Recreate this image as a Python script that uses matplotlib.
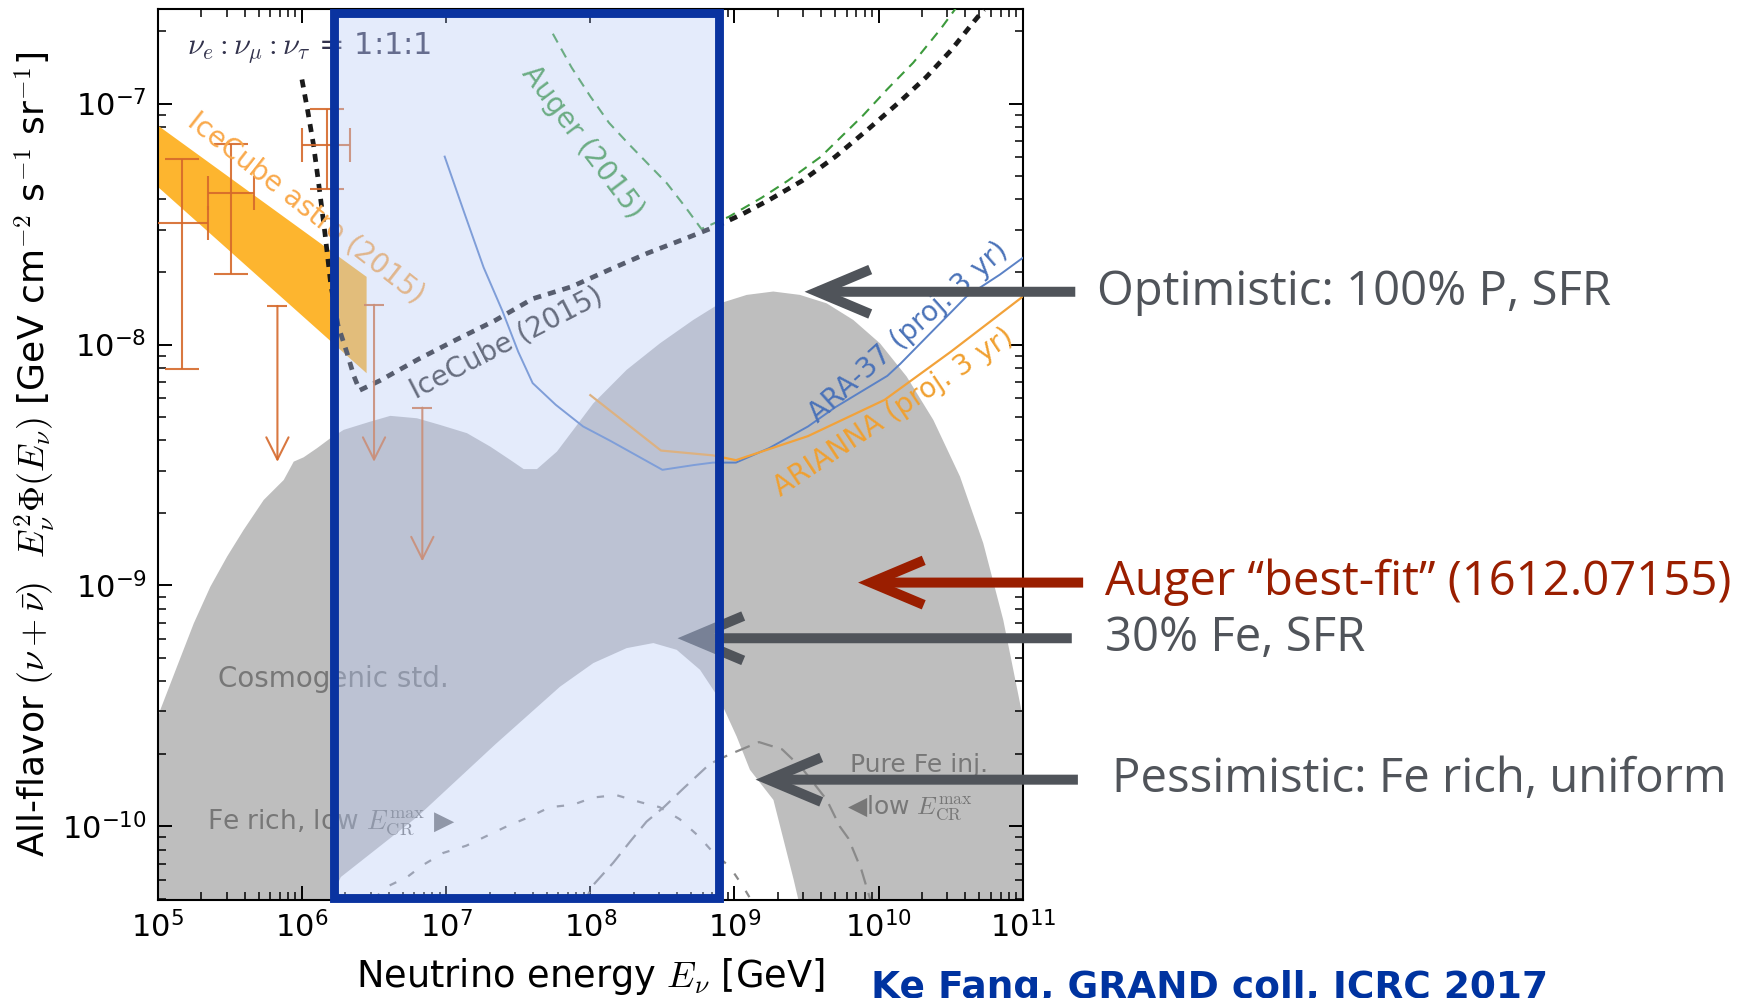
import numpy as np
import matplotlib
matplotlib.use("Agg")
import matplotlib.pyplot as plt
from matplotlib.patches import Rectangle
from matplotlib.ticker import LogLocator, NullFormatter
from matplotlib.transforms import blended_transform_factory

plt.rcParams['font.family'] = ['DejaVu Sans']
plt.rcParams['mathtext.fontset'] = 'cm'

# ---------------- data: log10(E / GeV) and log10(E^2 Phi / GeV cm^-2 s^-1 sr^-1) ----------------
cosmo_up_logE = [5.0, 5.018, 5.134, 5.25, 5.365, 5.481, 5.596, 5.735, 5.874, 5.943, 6.012, 6.105, 6.197, 6.29,
                 6.474, 6.613, 6.798, 6.96, 7.145, 7.307, 7.445, 7.538, 7.63, 7.769, 8.021, 8.252, 8.483, 8.714,
                 8.899, 9.085, 9.269, 9.454, 9.639, 9.824, 10.009, 10.194, 10.379, 10.564, 10.725, 10.864,
                 10.98, 11.0]
cosmo_up_logF = [-9.55, -9.516, -9.336, -9.157, -9.005, -8.880, -8.769, -8.645, -8.562, -8.486, -8.468, -8.430,
                 -8.389, -8.354, -8.320, -8.296, -8.306, -8.334, -8.368, -8.424, -8.479, -8.517, -8.517, -8.444,
                 -8.244, -8.105, -7.995, -7.898, -7.829, -7.794, -7.780, -7.794, -7.829, -7.898, -7.995, -8.133,
                 -8.313, -8.548, -8.824, -9.143, -9.488, -9.55]
cosmo_lo_logE = [5.0, 6.0, 6.19, 6.27, 6.80, 7.34, 7.79, 8.021, 8.252, 8.437, 8.599, 8.761, 8.899, 9.015, 9.107,
                 9.27, 9.41, 9.50, 11.0]
cosmo_lo_logF = [-11.0, -10.55, -10.31, -10.21, -9.96, -9.66, -9.42, -9.322, -9.26, -9.239, -9.267, -9.35, -9.475,
                 -9.627, -9.765, -9.89, -10.22, -10.45, -11.0]

astro_logE = [5.0, 6.445]
astro_hi_logF = [-7.09, -7.717]
astro_lo_logF = [-7.345, -8.117]

hese_logE = [5.171, 5.505, 6.177]
hese_logE_lo = [4.99, 5.346, 6.0]
hese_logE_hi = [5.351, 5.669, 6.336]
hese_logF = [-7.494, -7.372, -7.172]
hese_logF_lo = [-8.103, -7.706, -7.356]
hese_logF_hi = [-7.232, -7.166, -7.021]

ul_logE = [5.83, 6.50, 6.835]
ul_logF = [-7.84, -7.835, -8.262]
ul_tip_logF = [-8.487, -8.487, -8.90]

ic_logE = [6.0, 6.04, 6.08, 6.12, 6.16, 6.20, 6.25, 6.31, 6.36, 6.40, 6.54, 6.81, 7.07, 7.34, 7.60, 7.87, 8.13,
           8.40, 8.66, 8.87, 9.05, 9.24, 9.47, 9.70, 9.92, 10.15, 10.33, 10.50, 10.66, 10.73]
ic_logF = [-6.90, -7.03, -7.17, -7.35, -7.54, -7.75, -7.92, -8.03, -8.13, -8.19, -8.15, -8.06, -7.98, -7.90, -7.81,
           -7.76, -7.69, -7.62, -7.56, -7.51, -7.46, -7.40, -7.32, -7.22, -7.11, -6.99, -6.89, -6.78, -6.66, -6.61]

au_logE = [7.74, 7.87, 8.00, 8.13, 8.27, 8.40, 8.53, 8.66, 8.77, 8.96, 9.19, 9.37, 9.60, 9.89, 10.06, 10.24,
           10.43, 10.54]
au_logF = [-6.71, -6.85, -6.97, -7.08, -7.17, -7.25, -7.33, -7.43, -7.52, -7.47, -7.39, -7.32, -7.22, -7.05,
           -6.94, -6.83, -6.69, -6.60]

ara_logE = [6.99, 7.13, 7.26, 7.39, 7.50, 7.60, 7.76, 7.95, 8.14, 8.32, 8.50, 8.72, 8.85, 9.01, 9.24, 9.51,
            9.70, 10.06, 10.15, 10.38, 10.61, 10.84, 11.0]
ara_logF = [-7.22, -7.46, -7.68, -7.86, -8.03, -8.16, -8.25, -8.34, -8.40, -8.46, -8.52, -8.50, -8.49, -8.49,
            -8.43, -8.34, -8.26, -8.13, -8.08, -7.94, -7.80, -7.71, -7.64]

ari_logE = [8.00, 8.49, 8.85, 9.01, 9.51, 10.04, 10.50, 10.98, 11.0]
ari_logF = [-8.21, -8.44, -8.46, -8.48, -8.38, -8.23, -8.03, -7.81, -7.80]

fe1_logE = [6.50, 6.59, 6.73, 6.84, 6.98, 7.14, 7.28, 7.42, 7.58, 7.72, 7.88, 8.02, 8.18, 8.35, 8.48, 8.62,
            8.75, 8.84, 8.97, 9.06, 9.12]
fe1_logF = [-10.30, -10.25, -10.21, -10.16, -10.11, -10.08, -10.04, -10.00, -9.96, -9.92, -9.91, -9.88, -9.87,
            -9.90, -9.92, -9.97, -10.04, -10.10, -10.17, -10.25, -10.31]

fe2_logE = [7.95, 8.01, 8.16, 8.28, 8.39, 8.51, 8.65, 8.83, 8.97, 9.09, 9.17, 9.33, 9.47, 9.64, 9.73, 9.79,
            9.88, 9.92, 9.95]
fe2_logF = [-10.33, -10.25, -10.15, -10.06, -9.98, -9.92, -9.84, -9.74, -9.70, -9.67, -9.65, -9.68, -9.76,
            -9.89, -10.00, -10.05, -10.18, -10.26, -10.32]

# right-hand annotations: arrow tip (log10 E, log10 F), label text
note_tip_logE = [9.486, 9.857, 8.605, 9.146]
note_tip_logF = [-7.781, -8.988, -9.219, -9.806]
note_text = ["Optimistic: 100% P, SFR", "Auger \u201cbest-fit\u201d (1612.07155)",
             "30% Fe, SFR", "Pessimistic: Fe rich, uniform"]

# ---------------- layout / style constants ----------------
note_color = ['#50545a', '#9a1e00', '#50545a', '#50545a']
note_tail_x = [0.6155, 0.620, 0.6135, 0.617]
note_text_x = [0.628, 0.6327, 0.6327, 0.6365]
box_logE = (6.225, 8.891)


def P(a):
    return 10.0 ** np.asarray(a, dtype=float)


fig = plt.figure(figsize=(17.47, 9.98), dpi=100)
ax = fig.add_axes([0.0903, 0.0982, 0.4952, 0.8928])
ax.set_xscale('log')
ax.set_yscale('log')
ax.set_xlim(1e5, 1e11)
ax.set_ylim(4.95e-11, 2.47e-7)

# cosmogenic band
poly_E = np.concatenate([P(cosmo_up_logE), P(cosmo_lo_logE)[::-1]])
poly_F = np.concatenate([P(cosmo_up_logF), P(cosmo_lo_logF)[::-1]])
ax.fill(poly_E, poly_F, color='#bebebe', lw=0, zorder=1)

# IceCube astro band
ax.fill_between(P(astro_logE), P(astro_lo_logF), P(astro_hi_logF), color='#fdb52f', lw=0, zorder=2)

# lower gray dashed curves
ax.plot(P(fe1_logE), P(fe1_logF), color='#8a8a8a', lw=1.6, dashes=(3.3, 6.0), zorder=2)
ax.plot(P(fe2_logE), P(fe2_logF), color='#8a8a8a', lw=1.6, dashes=(7.0, 4.0), zorder=2)

# limits / sensitivities
ax.plot(P(ara_logE), P(ara_logF), color='#5b82c6', lw=1.4, zorder=3)
ax.plot(P(ari_logE), P(ari_logF), color='#f2a23a', lw=1.6, zorder=3)
ax.plot(P(au_logE), P(au_logF), color='#3c9a3c', lw=1.5, dashes=(4.8, 3.4), zorder=3)
ax.plot(P(ic_logE), P(ic_logF), color='#1a1a1a', lw=3.4, dashes=(1.7, 1.5), zorder=3)

# HESE data points
E = P(hese_logE)
F = P(hese_logF)
ax.errorbar(E, F, xerr=[E - P(hese_logE_lo), P(hese_logE_hi) - E],
            yerr=[F - P(hese_logF_lo), P(hese_logF_hi) - F],
            fmt='none', ecolor='#d5692b', elinewidth=1.5, capsize=12, capthick=1.5, alpha=0.9, zorder=4)
for e, f, t in zip(P(ul_logE), P(ul_logF), P(ul_tip_logF)):
    ax.plot([e], [f], marker='_', ms=15, mew=1.5, color='#d5692b', alpha=0.9, zorder=4)
    ax.annotate('', xy=(e, t), xytext=(e, f), xycoords='data', textcoords='data',
                arrowprops=dict(arrowstyle='->, head_length=0.8, head_width=0.4', color='#d5692b',
                                lw=1.5, shrinkA=0, shrinkB=0, mutation_scale=20, alpha=0.9), zorder=4)

# labels inside the axes
ax.text(P(5.205), P(-6.766), r'$\nu_e:\nu_\mu:\nu_\tau$ = 1:1:1', fontsize=22, color='#33334d',
        va='center', ha='left', zorder=4)
ax.text(P(6.026), P(-7.434), 'IceCube astro (2015)', fontsize=20, color='#f9a94b', rotation=-38,
        rotation_mode='anchor', ha='center', va='center', zorder=4)
ax.text(P(7.947), P(-7.159), 'Auger (2015)', fontsize=20, color='#3c9a3c', rotation=-53,
        rotation_mode='anchor', ha='center', va='center', zorder=4)
ax.text(P(7.417), P(-7.993), 'IceCube (2015)', fontsize=20, color='#333333', rotation=27.3,
        rotation_mode='anchor', ha='center', va='center', zorder=4)
ax.text(P(10.204), P(-7.947), 'ARA-37 (proj. 3 yr)', fontsize=20, color='#4a72b8', rotation=41.7,
        rotation_mode='anchor', ha='center', va='center', zorder=4)
ax.text(P(10.10), P(-8.28), 'ARIANNA (proj. 3 yr)', fontsize=20, color='#f0a030', rotation=33.6,
        rotation_mode='anchor', ha='center', va='center', zorder=4)
ax.text(P(5.416), P(-9.389), 'Cosmogenic std.', fontsize=20, color='#777777', va='center', ha='left', zorder=4)
ax.text(P(5.345), P(-9.984), 'Fe rich, low $E_{\\rm CR}^{\\rm max}$ \u25B6', fontsize=19, color='#777777',
        va='center', ha='left', zorder=4)
ax.text(P(9.80), P(-9.744), 'Pure Fe inj.', fontsize=18, color='#777777', va='center', ha='left', zorder=4)
ax.text(P(9.778), P(-9.923), '\u25C0low $E_{\\rm CR}^{\\rm max}$', fontsize=18, color='#777777',
        va='center', ha='left', zorder=4)

# annotation arrows (below the highlight box)
blend = blended_transform_factory(fig.transFigure, ax.transData)
for lx, ly, tx, txt_x, txt, col in zip(note_tip_logE, note_tip_logF, note_tail_x, note_text_x,
                                       note_text, note_color):
    ax.annotate('', xy=(P(lx), P(ly)), xycoords='data', xytext=(tx, P(ly)), textcoords=blend,
                arrowprops=dict(arrowstyle='->, head_length=1.9, head_width=0.8', color=col, lw=7.2,
                                shrinkA=0, shrinkB=0, mutation_scale=20, joinstyle='miter', capstyle='butt'),
                zorder=8, annotation_clip=False)
    fig.text(txt_x, P(ly), txt, transform=blend, fontsize=34, color=col, va='center', ha='left',
             family=['Open Sans', 'DejaVu Sans'])

# highlight box
x0, x1 = P(box_logE[0]), P(box_logE[1])
ax.add_patch(Rectangle((x0, 0.0025), x1 - x0, 0.9935, transform=ax.get_xaxis_transform(),
                       facecolor=(185 / 255, 203 / 255, 247 / 255, 0.385), edgecolor='#0a33a0',
                       lw=6.4, zorder=10, clip_on=False))

# axes styling
for sp in ax.spines.values():
    sp.set_linewidth(1.5)
for axis in (ax.xaxis, ax.yaxis):
    axis.set_major_locator(LogLocator(base=10, numticks=20))
    axis.set_minor_locator(LogLocator(base=10, subs=np.arange(2, 10), numticks=200))
    axis.set_minor_formatter(NullFormatter())
ax.tick_params(which='both', direction='in', top=True, right=True)
ax.tick_params(which='major', length=10, width=1.4, labelsize=22, pad=8)
ax.tick_params(which='minor', length=5.5, width=1.1)

ax.set_xlabel(r'Neutrino energy $E_\nu$ [GeV]', fontsize=26.5)
ax.xaxis.set_label_coords(0.5, -0.063)
ax.set_ylabel(r'All-flavor $(\nu+\bar{\nu})$  $E_\nu^2\Phi(E_\nu)$ [GeV cm$^{-2}$ s$^{-1}$ sr$^{-1}$]',
              fontsize=26)
ax.yaxis.set_label_coords(-0.117, 0.5)

fig.text(0.4986, 0.0, 'Ke Fang, GRAND coll, ICRC 2017', fontsize=27, fontweight='bold', color='#0033a0',
         va='baseline', ha='left')

fig.savefig('out.png', dpi=100)
